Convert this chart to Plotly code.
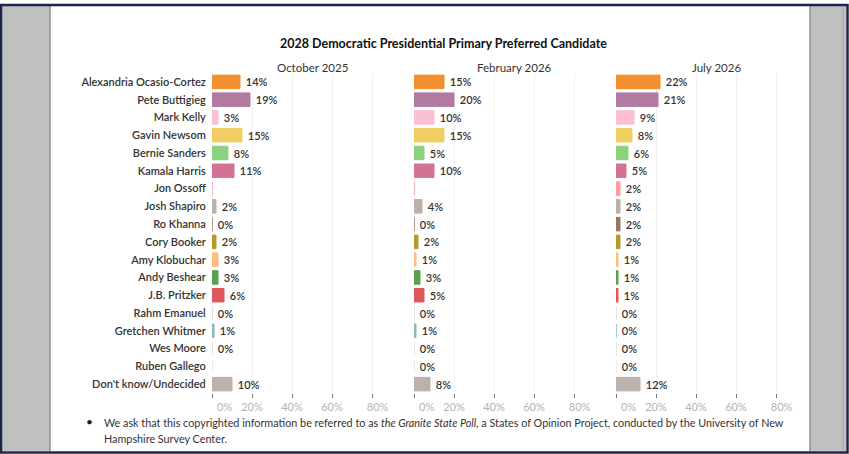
import plotly.graph_objects as go

candidates = ["Alexandria Ocasio-Cortez", "Pete Buttigieg", "Mark Kelly", "Gavin Newsom",
              "Bernie Sanders", "Kamala Harris", "Jon Ossoff", "Josh Shapiro", "Ro Khanna",
              "Cory Booker", "Amy Klobuchar", "Andy Beshear", "J.B. Pritzker", "Rahm Emanuel",
              "Gretchen Whitmer", "Wes Moore", "Ruben Gallego", "Don't know/Undecided"]
periods = ["October 2025", "February 2026", "July 2026"]
oct_2025 = [14, 19, 3, 15, 8, 11, None, 2, 0, 2, 3, 3, 6, 0, 1, 0, None, 10]
feb_2026 = [15, 20, 10, 15, 5, 10, None, 4, 0, 2, 1, 3, 5, 0, 1, 0, 0, 8]
jul_2026 = [22, 21, 9, 8, 6, 5, 2, 2, 2, 2, 1, 1, 1, 0, 0, 0, 0, 12]
colors = ["#F28E2B", "#B07AA1", "#FABFD2", "#F1CE63", "#8CD17D", "#D37295", "#FF9D9A",
          "#BAB0AC", "#9D7660", "#B6992D", "#FFBE7D", "#59A14F", "#E15759", "#D7D7D7",
          "#86BCB6", "#DDDDDD", "#E5E5E5", "#BAB0AC"]
tick_vals = [0, 20, 40, 60, 80]
tick_text = ["\u00a0" * 9 + "0%", "20%", "40%", "60%", "\u00a0" * 4 + "80%"]

W, H = 849, 454
def fx(px): return px / W
def fy(py): return 1 - py / H

FONT = "Lato"

fig = go.Figure()
series = [oct_2025, feb_2026, jul_2026]
axes = ["x", "x2", "x3"]
for vals, ax in zip(series, axes):
    xs = [v if v is not None else 0 for v in vals]
    txt = [f"\u00a0{v}%" if v is not None else "" for v in vals]
    fig.add_trace(go.Bar(
        x=xs, y=candidates, orientation="h", xaxis=ax, yaxis="y",
        marker=dict(color=colors, line=dict(color=colors, width=1)),
        text=txt, textposition="outside", cliponaxis=False,
        textfont=dict(family=FONT, size=11, color="#333333", weight=600),
        hoverinfo="skip", showlegend=False,
    ))

ytop, ybot = 73, 393
domains = [(212, 412), (414, 614), (616, 816)]
xaxis_common = dict(range=[0, 100], tickvals=tick_vals, ticktext=tick_text,
                    showgrid=True, gridcolor="#f0f0f0", gridwidth=1, zeroline=False,
                    ticks="outside", ticklen=4, tickcolor="#777777", tickwidth=1,
                    tickfont=dict(family=FONT, size=11, color="#b3b3b3"),
                    showline=False, anchor="y", fixedrange=True, automargin=False)
layout_axes = {}
for i, (a, b) in enumerate(domains):
    key = "xaxis" if i == 0 else f"xaxis{i+1}"
    layout_axes[key] = dict(domain=[fx(a), fx(b)], **xaxis_common)

fig.update_layout(
    width=W, height=H, margin=dict(l=0, r=0, t=0, b=0, autoexpand=False),
    paper_bgcolor="white", plot_bgcolor="white",
    bargap=0.24,
    yaxis=dict(domain=[fy(ybot), fy(ytop)], categoryorder="array", categoryarray=candidates,
               autorange="reversed", showgrid=False, zeroline=False, showline=False,
               ticks="outside", ticklen=3, tickcolor="rgba(0,0,0,0)",
               tickfont=dict(family=FONT, size=11, color="#333333", weight=600),
               anchor="x", fixedrange=True, automargin=False),
    **layout_axes,
)

shapes = []
# grey side panels
shapes.append(dict(type="rect", xref="paper", yref="paper", x0=fx(2), x1=fx(50), y0=fy(451), y1=fy(6),
                   fillcolor="#c0c0c0", line=dict(width=0), layer="below"))
shapes.append(dict(type="line", xref="paper", yref="paper", x0=fx(50), x1=fx(50), y0=fy(451), y1=fy(6),
                   line=dict(color="#8f8f8f", width=1.5)))
shapes.append(dict(type="rect", xref="paper", yref="paper", x0=fx(810), x1=fx(846), y0=fy(451), y1=fy(6),
                   fillcolor="#c0c0c0", line=dict(width=0), layer="below"))
shapes.append(dict(type="line", xref="paper", yref="paper", x0=fx(810), x1=fx(810), y0=fy(451), y1=fy(6),
                   line=dict(color="#8f8f8f", width=1.5)))
shapes.append(dict(type="line", xref="paper", yref="paper", x0=fx(843), x1=fx(843), y0=fy(451), y1=fy(6),
                   line=dict(color="#a8a8a8", width=1)))
# navy frame
shapes.append(dict(type="rect", xref="paper", yref="paper", x0=fx(1), x1=fx(847.5), y0=fy(452.5), y1=fy(5),
                   line=dict(color="#1c2747", width=2.5), fillcolor="rgba(0,0,0,0)"))
fig.update_layout(shapes=shapes)

annotations = [
    dict(text="<b>2028 Democratic Presidential Primary Preferred Candidate</b>", x=fx(443), y=fy(44),
         xref="paper", yref="paper", showarrow=False, xanchor="center", yanchor="middle",
         font=dict(family=FONT, size=12.5, color="#111111")),
]
for p, (a, b) in zip(periods, domains):
    annotations.append(dict(text=p, x=fx((a + b) / 2), y=fy(67), xref="paper", yref="paper",
                            showarrow=False, xanchor="center", yanchor="middle",
                            font=dict(family=FONT, size=11.5, color="#333333")))
annotations.append(dict(text="•", x=fx(89), y=fy(421), xref="paper", yref="paper", showarrow=False,
                        xanchor="center", yanchor="middle", font=dict(family=FONT, size=12, color="#222222")))
annotations.append(dict(text="We ask that this copyrighted information be referred to as <i>the Granite State Poll,</i> "
                             "a States of Opinion Project, conducted by the University of New",
                        x=fx(102), y=fy(422), xref="paper", yref="paper", showarrow=False,
                        xanchor="left", yanchor="middle", font=dict(family=FONT, size=10.8, color="#333333")))
annotations.append(dict(text="Hampshire Survey Center.", x=fx(102), y=fy(438), xref="paper", yref="paper",
                        showarrow=False, xanchor="left", yanchor="middle",
                        font=dict(family=FONT, size=10.8, color="#333333")))
fig.update_layout(annotations=annotations)

fig.write_html("out.html")
